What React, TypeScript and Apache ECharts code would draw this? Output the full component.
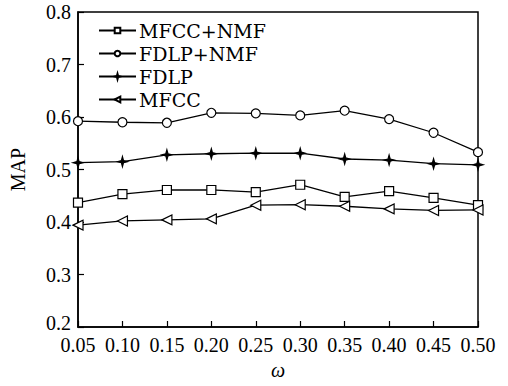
import React, { useEffect, useRef } from "react";
import * as echarts from "echarts";

const omegas = ["0.05", "0.10", "0.15", "0.20", "0.25", "0.30", "0.35", "0.40", "0.45", "0.50"];
const mfccNmf = [0.437, 0.453, 0.461, 0.461, 0.457, 0.471, 0.448, 0.459, 0.446, 0.432];
const fdlpNmf = [0.592, 0.590, 0.589, 0.608, 0.607, 0.603, 0.612, 0.596, 0.570, 0.533];
const fdlp = [0.513, 0.515, 0.528, 0.530, 0.531, 0.531, 0.520, 0.518, 0.511, 0.509];
const mfcc = [0.394, 0.402, 0.404, 0.406, 0.432, 0.433, 0.430, 0.425, 0.422, 0.423];
const seriesNames = ["MFCC+NMF", "FDLP+NMF", "FDLP", "MFCC"];

const STAR = "path://M0,-6 L1.3,-1.3 L6,0 L1.3,1.3 L0,6 L-1.3,1.3 L-6,0 L-1.3,-1.3 Z";
const LTRI = "path://M0,5 L10,0 L10,10 Z";

export default function App() {
  const ref = useRef<HTMLDivElement>(null);
  useEffect(() => {
    const chart = echarts.init(ref.current!, null, { renderer: "svg" });
    const font = "Liberation Serif, Times New Roman, serif";
    const mk = (name: string, data: number[], symbol: string, size: number, fill: string) => ({
      name,
      type: "line",
      data,
      symbol,
      symbolSize: size,
      showAllSymbol: true,
      lineStyle: { color: "#000", width: 1.3 },
      itemStyle: { color: fill, borderColor: "#000", borderWidth: 1.2 },
    });
    chart.setOption({
      animation: false,
      backgroundColor: "#fff",
      textStyle: { fontFamily: font },
      grid: { left: 77, right: 30, top: 12, bottom: 59, show: true, borderColor: "#000", borderWidth: 1.5, backgroundColor: "transparent" },
      legend: {
        left: 93,
        top: 16,
        orient: "vertical",
        itemWidth: 37,
        itemHeight: 7,
        itemGap: 4,
        textStyle: { fontFamily: "DejaVu Serif", fontSize: 19, color: "#000", padding: [0, 0, 0, -2] },
        data: seriesNames,
      },
      xAxis: {
        type: "category",
        data: omegas,
        boundaryGap: false,
        name: "ω",
        nameLocation: "middle",
        nameGap: 33,
        nameTextStyle: { fontFamily: font, fontSize: 20, fontStyle: "italic", color: "#000" },
        axisLine: { lineStyle: { color: "#000", width: 1.5 } },
        axisTick: { inside: true, length: 6, alignWithLabel: true, interval: 0, lineStyle: { color: "#000", width: 1.2 } },
        axisLabel: { fontFamily: font, fontSize: 20, color: "#000", margin: 8, interval: 0 },
        splitLine: { show: false },
      },
      yAxis: {
        type: "value",
        min: 0.2,
        max: 0.8,
        interval: 0.1,
        name: "MAP",
        nameLocation: "middle",
        nameGap: 50,
        nameTextStyle: { fontFamily: font, fontSize: 20, color: "#000" },
        axisLine: { show: true, lineStyle: { color: "#000", width: 1.5 } },
        axisTick: { show: true, inside: true, length: 6, lineStyle: { color: "#000", width: 1.2 } },
        axisLabel: {
          fontFamily: font,
          fontSize: 20,
          color: "#000",
          margin: 7,
          formatter: (v: number) => (Math.abs(v - 0.2) < 1e-6 ? "{low|" + v.toFixed(1) + "}" : v.toFixed(1)),
          rich: { low: { fontFamily: font, fontSize: 20, color: "#000", padding: [0, 0, 8, 0] } },
        },
        splitLine: { show: false },
      },
      series: [
        mk(seriesNames[0], mfccNmf, "rect", 9, "#fff"),
        mk(seriesNames[1], fdlpNmf, "circle", 9, "#fff"),
        mk(seriesNames[2], fdlp, STAR, 10, "#000"),
        mk(seriesNames[3], mfcc, LTRI, 10, "#fff"),
      ],
    });
    return () => chart.dispose();
  }, []);
  return <div ref={ref} style={{ width: 508, height: 386, position: "absolute", left: 0, top: 0 }} />;
}
